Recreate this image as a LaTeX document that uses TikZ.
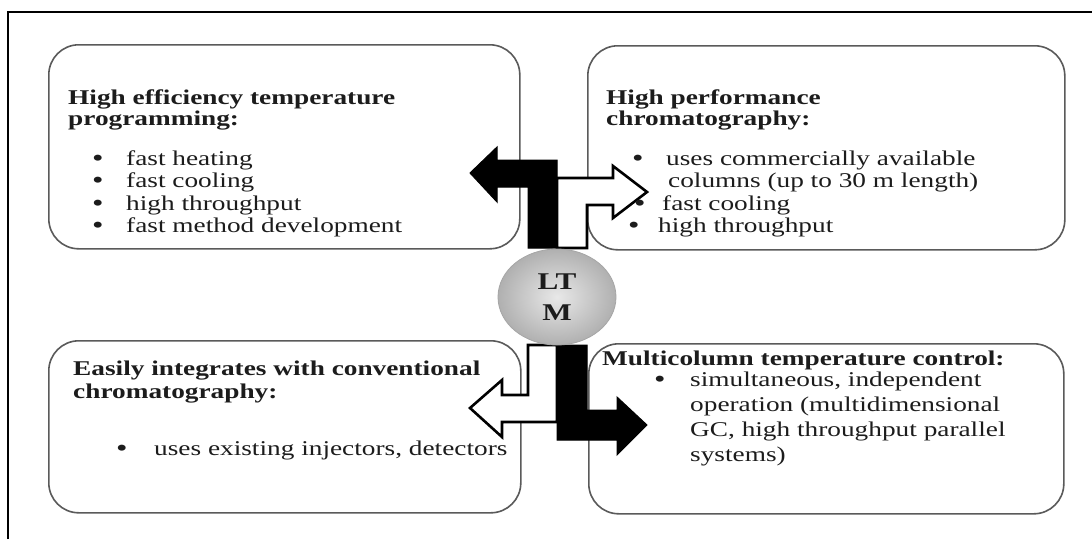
\documentclass[tikz,border=0pt]{standalone}
\usepackage{fontspec}
\setmainfont{Liberation Serif}[FakeStretch=1.3]
\usepackage{tikz}
\usetikzlibrary{positioning,shapes.geometric,calc}
\usepackage{xcolor}
\definecolor{inkdark}{HTML}{1C1C1C}
\definecolor{panelline}{HTML}{5A5A5A}
% stacked lines, baseline of the node = first line
\newcommand{\stack}[2]{\vtop{\baselineskip=#1\relax\lineskiplimit=-10pt #2}}
\newcommand{\dotmark}{\raisebox{-1.2pt}[0pt][0pt]{\scalebox{1.2}{\textbullet}}}
\newcommand{\itm}[2][34pt]{\hbox{\makebox[#1][l]{\dotmark}#2}}
\newcommand{\cnt}[2][34pt]{\hbox{\hspace*{#1}#2}}

\begin{document}
\begin{tikzpicture}[x=1pt,y=-1pt,
  panel/.style={draw=panelline,line width=1.6pt,rounded corners=30pt,fill=white,anchor=north west,inner sep=0pt},
  txt/.style={inner sep=0pt,anchor=base west,text=inkdark,font=\fontsize{21}{22}\selectfont},
  head/.style={txt,font=\bfseries\fontsize{21}{22}\selectfont},
  solidarrow/.style={fill=black,draw=black,line width=1pt,line join=miter},
  hollowarrow/.style={fill=white,draw=black,line width=2.6pt,line join=miter}]
\useasboundingbox (0,0) rectangle (1092,539);
\fill[white] (0,0) rectangle (1092,539);
% frame
\draw[line width=2.6pt] (8,539) -- (8,12) -- (1092,12);

% the four panels
\node[panel,minimum width=471pt,minimum height=204pt] (effbox) at (48,44) {};
\node[panel,minimum width=477pt,minimum height=204pt] (perfbox) at (587,45) {};
\node[panel,minimum width=472pt,minimum height=172pt] (integbox) at (48,340) {};
\node[panel,minimum width=475pt,minimum height=170pt] (multibox) at (588,343) {};

% block arrows out of the centre
\draw[hollowarrow] (557,248) -- (587,248) -- (587,205) -- (613,205) -- (613,218) -- (647,192)
  -- (613,166) -- (613,178) -- (557,178) -- cycle;
\draw[solidarrow] (470,173) -- (497,147) -- (497,160) -- (557,160) -- (557,248) -- (528,248)
  -- (528,187) -- (497,187) -- (497,202) -- cycle;
\draw[hollowarrow] (528,345) -- (557,345) -- (557,422) -- (502,422) -- (502,437) -- (470,408)
  -- (502,380) -- (502,395) -- (528,395) -- cycle;
\draw[solidarrow] (557,345) -- (587,345) -- (587,410) -- (617,410) -- (617,397) -- (647,425)
  -- (617,455) -- (617,440) -- (557,440) -- cycle;

% panel texts
\node[head] (effhead) at (68,104) {\stack{21.5pt}{\hbox{High efficiency temperature}\hbox{programming:}}};
\node[txt] (efflist) at (92,165) {\stack{22.5pt}{\itm{fast heating}\itm{fast cooling}
  \itm{high throughput}\itm{fast method development}}};

\node[head] (perfhead) at (606,104) {\stack{21.5pt}{\hbox{High performance}\hbox{chromatography:}}};
\node[txt] (perflist) at (632,165) {\stack{22.5pt}{\itm{uses commercially available}
  \cnt[36pt]{columns (up to 30 m length)}\hbox{\hspace*{2pt}\itm[28pt]{fast cooling}}
  \hbox{\hspace*{-4pt}\itm[30pt]{high throughput}}}};

\node[head] (integhead) at (73,375) {\stack{23.5pt}{\hbox{Easily integrates with conventional}\hbox{chromatography:}}};
\node[txt] (integlist) at (116,455) {\stack{22.5pt}{\itm[38pt]{uses existing injectors, detectors}}};

\node[head] (multihead) at (602,365) {Multicolumn temperature control:};
\node[txt] (multilist) at (654,386) {\stack{25pt}{\itm[36pt]{simultaneous, independent}
  \cnt[36pt]{operation (multidimensional}\cnt[36pt]{GC, high throughput parallel}\cnt[36pt]{systems)}}};

% centre
\node[ellipse,draw=gray!70,line width=0.8pt,shading=radial,inner color=gray!18,outer color=gray!62,
  minimum width=118pt,minimum height=96pt,inner sep=0pt,align=center,text=inkdark,
  font=\bfseries\fontsize{24}{31}\selectfont] (ltm) at (557,297) {LT\\M};
\end{tikzpicture}
\end{document}
